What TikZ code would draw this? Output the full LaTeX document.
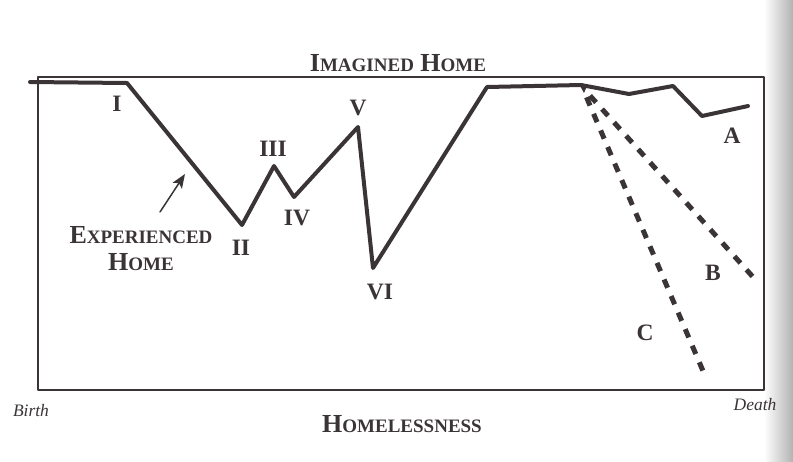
\documentclass[tikz,border=0pt]{standalone}
\usepackage{fontspec}
\usetikzlibrary{arrows.meta}
\setmainfont{Liberation Serif}
\definecolor{ink}{RGB}{58,52,54}
\newcommand\lowcap[1]{{\fontsize{19}{19}\selectfont #1}}
\begin{document}
\begin{tikzpicture}[x=1pt, y=-1pt, line join=round, line cap=round, >={Stealth[length=14pt,width=11pt,inset=3pt]},
	lab/.style={text=ink, font=\fontsize{23.5}{23.5}\selectfont\bfseries},
	heading/.style={text=ink, font=\fontsize{26}{26}\selectfont\bfseries},
	ends/.style={text=ink, font=\fontsize{17.5}{17.5}\selectfont\itshape},
	life/.style={ink, line width=4pt},
	fate/.style={ink, line width=5pt, line cap=butt, dash pattern=on 9pt off 9pt, dash phase=9pt}]
	\useasboundingbox (0,0) rectangle (793,461);
	\shade[left color=white, right color=black!30] (764,0) rectangle (793,461);
	% frame
	\coordinate (F1) at (38,77);
	\coordinate (F2) at (764,390);
	\draw[ink, line width=1.4pt] (F1) rectangle (F2);
	% experienced home
	\coordinate (S) at (30,82);
	\coordinate (P1) at (127,83);
	\coordinate (P2) at (242,225);
	\coordinate (P3) at (274,166);
	\coordinate (P4) at (294,197);
	\coordinate (P5) at (358,127);
	\coordinate (P6) at (373,268);
	\coordinate (P7) at (487,87);
	\coordinate (P8) at (581,85);
	\coordinate (Q1) at (629,94);
	\coordinate (Q2) at (673,86);
	\coordinate (Q3) at (702,116);
	\coordinate (Q4) at (748,106);
	\draw[life] (S)--(P1)--(P2)--(P3)--(P4)--(P5)--(P6)--(P7)--(P8)--(Q1)--(Q2)--(Q3)--(Q4);
	\fill[ink] (579,84) -- (587,86) -- (584,93) -- cycle;
	\coordinate (EB) at (753,277);
	\coordinate (EC) at (706,378);
	\draw[fate] (P8)++(3,4) -- (EB);
	\draw[fate] (P8)++(2,4) -- (EC);
	% labels
	\node[lab] (nI) at (117,104) {I};
	\node[lab] (nII) at (241,248) {II};
	\node[lab] (nIII) at (273,149) {III};
	\node[lab] (nIV) at (297,218) {IV};
	\node[lab] (nV) at (358,108) {V};
	\node[lab] (nVI) at (380,292) {VI};
	\node[lab] (nA) at (732,136) {A};
	\node[lab] (nB) at (713,273) {B};
	\node[lab] (nC) at (645,333) {C};
	\node[heading, align=center] (exp) at (141,249) {E\lowcap{XPERIENCED}\\[1pt]H\lowcap{OME}};
	\coordinate (tip) at (185,174);
	\draw[->, ink, line width=1.5pt] (160,212) -- (tip);
	\node[heading] (imag) at (398,63) {I\lowcap{MAGINED} H\lowcap{OME}};
	\node[heading] (hless) at (402,424) {H\lowcap{OMELESSNESS}};
	\node[ends] (birth) at (31,411) {Birth};
	\node[ends] (death) at (755,405) {Death};
\end{tikzpicture}
\end{document}
